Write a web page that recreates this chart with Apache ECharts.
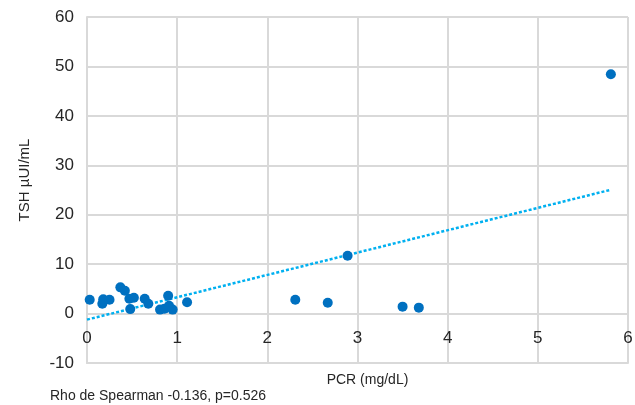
<!DOCTYPE html>
<html>
<head>
<meta charset="utf-8">
<script src="https://cdn.jsdelivr.net/npm/echarts@6/dist/echarts.min.js"></script>
<style>
  html, body { margin: 0; padding: 0; background: #fff; }
  #chart { width: 635px; height: 405px; }
</style>
</head>
<body>
<div id="chart"></div>
<script>
// PCR (mg/dL) per patient
const pcr = [0.03, 0.17, 0.18, 0.25, 0.37, 0.42, 0.47, 0.48, 0.52, 0.64, 0.68, 0.81,
             0.86, 0.90, 0.91, 0.95, 1.11, 2.31, 2.67, 2.89, 3.50, 3.68, 5.81];
// TSH (µUI/mL) per patient
const tsh = [2.8, 2.0, 2.9, 2.8, 5.3, 4.6, 3.0, 0.9, 3.2, 3.0, 2.0, 0.8,
             1.0, 3.6, 1.6, 0.8, 2.3, 2.8, 2.2, 11.7, 1.4, 1.2, 48.4];

const xTicks = { min: 0, max: 6, step: 1 };
const yTicks = { min: -10, max: 60, step: 10 };

const footnote = 'Rho de Spearman -0.136, p=0.526';

// Least-squares linear trend line
const n = pcr.length;
const mx = pcr.reduce((a, b) => a + b, 0) / n;
const my = tsh.reduce((a, b) => a + b, 0) / n;
let sxy = 0, sxx = 0;
for (let i = 0; i < n; i++) {
  sxy += (pcr[i] - mx) * (tsh[i] - my);
  sxx += (pcr[i] - mx) * (pcr[i] - mx);
}
const slope = sxy / sxx;
const intercept = my - slope * mx;
const xEnd = Math.max(...pcr);
const trend = [[0, intercept], [xEnd, intercept + slope * xEnd]];

const points = pcr.map((x, i) => [x, tsh[i]]);

const gridColor = '#d9d9d9';
const textColor = '#262626';
const font = 'Liberation Sans, Arial, Helvetica, sans-serif';

const chart = echarts.init(document.getElementById('chart'), null, { renderer: 'canvas' });
chart.setOption({
  animation: false,
  backgroundColor: '#ffffff',
  grid: { left: 87, right: 7, top: 17, bottom: 42, containLabel: false, outerBoundsMode: 'none' },
  xAxis: {
    type: 'value',
    min: xTicks.min, max: xTicks.max, interval: xTicks.step,
    axisLine: { show: true, onZero: false, lineStyle: { color: gridColor, width: 2 } },
    axisTick: { show: false },
    // tick labels sit just under the zero line, inside the plot
    axisLabel: { color: textColor, fontSize: 17, fontFamily: font, margin: -33 },
    splitLine: { show: true, lineStyle: { color: gridColor, width: 2 } },
    name: 'PCR (mg/dL)',
    nameLocation: 'middle',
    nameGap: 10,
    nameTextStyle: { color: textColor, fontSize: 14, fontFamily: font, padding: [0, 0, 0, 20] }
  },
  yAxis: {
    type: 'value',
    min: yTicks.min, max: yTicks.max, interval: yTicks.step,
    axisLine: { show: true, onZero: false, lineStyle: { color: gridColor, width: 2 } },
    axisTick: { show: false },
    axisLabel: { color: textColor, fontSize: 17, fontFamily: font, margin: 13 },
    splitLine: { show: true, lineStyle: { color: gridColor, width: 2 } },
    name: 'TSH µUI/mL',
    nameLocation: 'middle',
    nameRotate: 90,
    nameGap: 55,
    nameTextStyle: { color: textColor, fontSize: 15, fontFamily: font, padding: [0, 0, 0, 20] }
  },
  series: [
    {
      name: 'Tendencia',
      type: 'line',
      data: trend,
      showSymbol: false,
      symbol: 'none',
      silent: true,
      lineStyle: { color: '#00b0f0', width: 2.5, type: [3, 2], cap: 'butt' },
      z: 2
    },
    {
      name: 'TSH',
      type: 'scatter',
      data: points,
      symbolSize: 10,
      itemStyle: { color: '#0070c0', opacity: 1 },
      z: 3
    }
  ],
  graphic: [
    {
      type: 'text',
      left: 50,
      top: 389,
      style: { text: footnote, fill: textColor, font: '14px ' + font }
    }
  ]
});
</script>
</body>
</html>
